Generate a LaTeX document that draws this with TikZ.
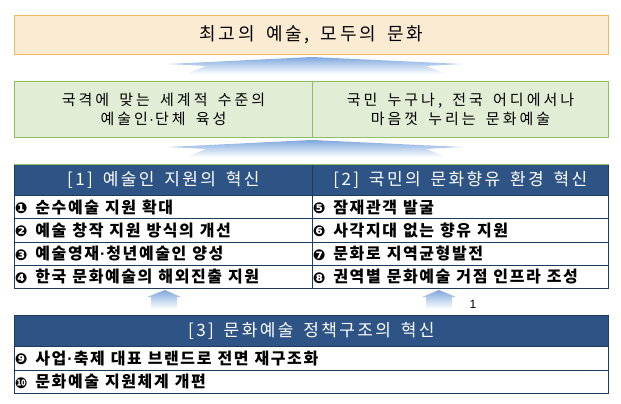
\documentclass[tikz,border=0pt]{standalone}
\usepackage{fontspec}
\setmainfont{Noto Sans CJK KR}
\newfontfamily\titlefont[LetterSpace=16, WordSpace=1.6]{Noto Sans CJK KR}
\newfontfamily\grnfont[LetterSpace=20, WordSpace=1.6]{Noto Sans CJK KR}
\newfontfamily\hdrfont[LetterSpace=14, WordSpace=1.6]{Noto Sans CJK KR}
\newfontfamily\rowfont[LetterSpace=10]{Noto Sans CJK KR}
\newfontfamily\bulfont{DejaVu Sans}
\newfontfamily\latfont{Liberation Sans}
\definecolor{topfill}{HTML}{FCEBD3}
\definecolor{topline}{HTML}{F2B75B}
\definecolor{grnfill}{HTML}{E1EDD5}
\definecolor{grnline}{HTML}{8CC063}
\definecolor{hdrblue}{HTML}{2D5484}
\definecolor{rowline}{HTML}{1F3A5F}
\definecolor{arrblue}{HTML}{7FA8DD}
\newcommand\bul[1]{{\bulfont\fontsize{15}{15}\selectfont #1}}
\newcommand\md{\hspace{1pt}{\latfont ·}\hspace{1pt}}
\newcommand\rowt[2]{\spaceskip=6pt\relax\makebox[20pt][l]{\hspace{-0.5pt}\raisebox{-0.5pt}{\bul{#1}}}#2}
\tikzset{
  topbox/.style={draw=topline, line width=1pt, fill=topfill, inner sep=0pt, anchor=north west,
    font=\titlefont\fontsize{18}{20}\selectfont},
  grnbox/.style={draw=grnline, line width=1pt, fill=grnfill, inner sep=0pt, anchor=north west,
    align=center, font=\grnfont\fontsize{15}{19}\selectfont},
  hdrbox/.style={draw=rowline, line width=0.8pt, fill=hdrblue, text=white, inner sep=0pt, anchor=north west,
    font=\hdrfont\fontsize{17}{18}\selectfont},
  rowbox/.style={draw=rowline, line width=0.8pt, fill=white, inner sep=0pt, anchor=north west,
    align=left, font=\rowfont\bfseries\fontsize{16}{17}\selectfont},
  bigarr/.style={top color=arrblue, bottom color=white, draw=none},
  smallarr/.style={top color=arrblue, bottom color=white, draw=none},
}
\begin{document}
\begin{tikzpicture}[x=1pt,y=-1pt]
\useasboundingbox (0,0) rectangle (621,404);
% top goal
\node[topbox, minimum width=594pt, minimum height=39pt] (top) at (14,15) {최고의 예술, 모두의 문화};
% chevrons
\shade[bigarr] (168,64) -- (312,57) -- (462,64) -- (426,66) -- (446,74) -- (186,74) -- (206,66) -- cycle;
\shade[bigarr] (168,147) -- (312,140) -- (462,147) -- (426,149) -- (446,157) -- (186,157) -- (206,149) -- cycle;
% green goals
\node[grnbox, minimum width=298pt, minimum height=56pt] (g1) at (14,81) {국격에 맞는 세계적 수준의\\예술인\md 단체 육성};
\node[grnbox, minimum width=296pt, minimum height=56pt] (g2) at (312,81) {국민 누구나, 전국 어디에서나\\마음껏 누리는 문화예술};
% table 1/2 headers
\node[hdrbox, minimum width=298pt, minimum height=31pt] (h1) at (14,164) {[1] 예술인 지원의 혁신};
\node[hdrbox, minimum width=296pt, minimum height=31pt] (h2) at (312,164) {[2] 국민의 문화향유 환경 혁신};
\draw[grnline, line width=1pt] (h1.north west) -- (h2.north east);
% left rows
\node[rowbox, minimum width=298pt, text width=296pt, minimum height=23.25pt] (l1) at (14,195) {\rowt{❶}{순수예술 지원 확대}};
\node[rowbox, minimum width=298pt, text width=296pt, minimum height=23.25pt] (l2) at (14,218.25) {\rowt{❷}{예술 창작 지원 방식의 개선}};
\node[rowbox, minimum width=298pt, text width=296pt, minimum height=23.25pt] (l3) at (14,241.5) {\rowt{❸}{예술영재\md 청년예술인 양성}};
\node[rowbox, minimum width=298pt, text width=296pt, minimum height=23.25pt] (l4) at (14,264.75) {\rowt{❹}{한국 문화예술의 해외진출 지원}};
% right rows
\node[rowbox, minimum width=296pt, text width=294pt, minimum height=23.25pt] (r1) at (312,195) {\rowt{❺}{잠재관객 발굴}};
\node[rowbox, minimum width=296pt, text width=294pt, minimum height=23.25pt] (r2) at (312,218.25) {\rowt{❻}{사각지대 없는 향유 지원}};
\node[rowbox, minimum width=296pt, text width=294pt, minimum height=23.25pt] (r3) at (312,241.5) {\rowt{❼}{문화로 지역균형발전}};
\node[rowbox, minimum width=296pt, text width=294pt, minimum height=23.25pt] (r4) at (312,264.75) {\rowt{❽}{권역별 문화예술 거점 인프라 조성}};
% small arrows
\shade[smallarr] (165,290) -- (181,297) -- (177,297) -- (177,309) -- (151,309) -- (151,297) -- (147,297) -- cycle;
\shade[smallarr] (439,290) -- (456,297) -- (452,297) -- (452,309) -- (426,309) -- (426,297) -- (422,297) -- cycle;
\node[font=\latfont\fontsize{12}{12}\selectfont, inner sep=0pt] (one) at (473,304) {1};
% bottom table
\node[hdrbox, minimum width=594pt, minimum height=31pt] (h3) at (14,315) {[3] 문화예술 정책구조의 혁신};
\node[rowbox, minimum width=594pt, text width=592pt, minimum height=24pt] (b1) at (14,346) {\rowt{❾}{사업\md 축제 대표 브랜드로 전면 재구조화}};
\node[rowbox, minimum width=594pt, text width=592pt, minimum height=23pt] (b2) at (14,370) {\rowt{❿}{문화예술 지원체계 개편}};
\end{tikzpicture}
\end{document}
